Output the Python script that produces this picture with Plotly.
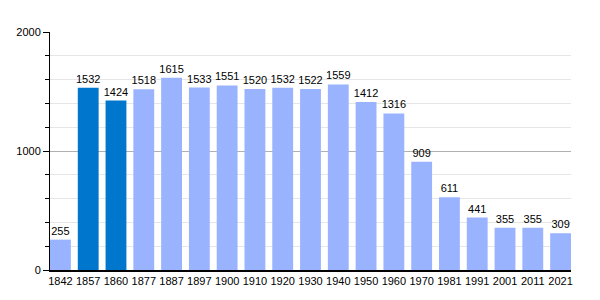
import plotly.graph_objects as go

years = ["1842", "1857", "1860", "1877", "1887", "1897", "1900", "1910", "1920", "1930",
         "1940", "1950", "1960", "1970", "1981", "1991", "2001", "2011", "2021"]
population = [255, 1532, 1424, 1518, 1615, 1533, 1551, 1520, 1532, 1522,
              1559, 1412, 1316, 909, 611, 441, 355, 355, 309]
highlight_years = ["1857", "1860"]

colors = ["#0077cc" if y in highlight_years else "#99b3ff" for y in years]

fig = go.Figure(go.Bar(
    x=years, y=population,
    marker=dict(color=colors, line=dict(width=0)),
    width=0.75,
    text=[str(v) for v in population],
    textposition="outside",
    textfont=dict(color="black", size=11, family="Liberation Sans"),
    cliponaxis=False,
))

fig.update_layout(
    width=600, height=300,
    margin=dict(l=50, r=29, t=32, b=30),
    plot_bgcolor="white", paper_bgcolor="white",
    showlegend=False,
    font=dict(family="Liberation Sans", size=11, color="black"),
    bargap=0.25,
    uniformtext=dict(minsize=11, mode="show"),
)
fig.update_xaxes(
    type="category", range=[-0.375, 18.375],
    showline=True, linecolor="black", linewidth=1.5,
    ticks="", showgrid=False, tickfont=dict(size=11, color="black"),
)
fig.update_yaxes(
    range=[0, 2000], tickvals=[0, 1000, 2000],
    showline=True, linecolor="black", linewidth=1,
    ticks="outside", ticklen=6, tickcolor="black",
    gridcolor="#b0b0b0", gridwidth=1,
    zeroline=False,
    minor=dict(tickvals=[200, 400, 600, 800, 1200, 1400, 1600, 1800], ticks="outside", ticklen=4,
               tickcolor="black", showgrid=True, gridcolor="#e6e6e6", gridwidth=1),
    tickfont=dict(size=11, color="black"),
)

fig.write_html("out.html")
